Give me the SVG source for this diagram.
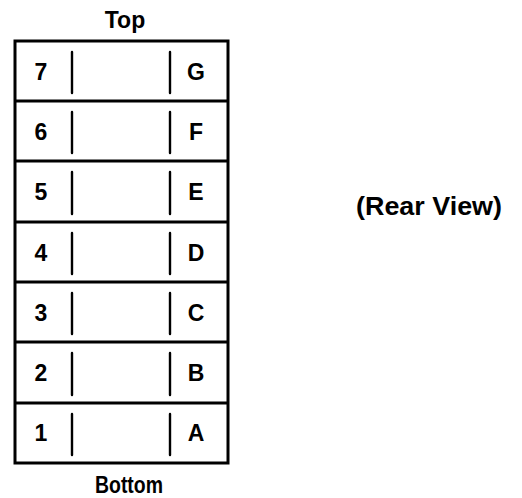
<svg xmlns="http://www.w3.org/2000/svg" width="522" height="498" viewBox="0 0 522 498">
<style>
.t{font-family:"Liberation Sans",Arial,sans-serif;font-weight:bold;font-size:23px;fill:#000}
.m{text-anchor:middle}
.box{fill:none;stroke:#000;stroke-width:3}
.sep{stroke:#000;stroke-width:3}
.div{stroke:#000;stroke-width:2.4;stroke-linecap:round}
</style>
<rect width="522" height="498" fill="#fff"/>
<text class="t m" x="125" y="28">Top</text>
<text class="t m" x="129" y="493" textLength="68" lengthAdjust="spacingAndGlyphs">Bottom</text>
<text class="t m" x="429" y="215" style="font-size:25px" textLength="146" lengthAdjust="spacingAndGlyphs">(Rear View)</text>
<rect class="box" x="15" y="41" width="213" height="422"/>
<g id="connectors">
<line class="sep" x1="15" y1="101" x2="228" y2="101"/>
<line class="sep" x1="15" y1="161" x2="228" y2="161"/>
<line class="sep" x1="15" y1="222" x2="228" y2="222"/>
<line class="sep" x1="15" y1="282" x2="228" y2="282"/>
<line class="sep" x1="15" y1="342" x2="228" y2="342"/>
<line class="sep" x1="15" y1="403" x2="228" y2="403"/>
</g>
<g id="row7"><text class="t m" x="41" y="80">7</text><line class="div" x1="72" y1="52" x2="72" y2="93"/><line class="div" x1="170" y1="52" x2="170" y2="93"/><text class="t m" x="196" y="80">G</text></g>
<g id="row6"><text class="t m" x="41" y="140">6</text><line class="div" x1="72" y1="112" x2="72" y2="153"/><line class="div" x1="170" y1="112" x2="170" y2="153"/><text class="t m" x="196" y="140">F</text></g>
<g id="row5"><text class="t m" x="41" y="200">5</text><line class="div" x1="72" y1="172" x2="72" y2="214"/><line class="div" x1="170" y1="172" x2="170" y2="214"/><text class="t m" x="196" y="200">E</text></g>
<g id="row4"><text class="t m" x="41" y="261">4</text><line class="div" x1="72" y1="233" x2="72" y2="274"/><line class="div" x1="170" y1="233" x2="170" y2="274"/><text class="t m" x="196" y="261">D</text></g>
<g id="row3"><text class="t m" x="41" y="321">3</text><line class="div" x1="72" y1="293" x2="72" y2="334"/><line class="div" x1="170" y1="293" x2="170" y2="334"/><text class="t m" x="196" y="321">C</text></g>
<g id="row2"><text class="t m" x="41" y="381">2</text><line class="div" x1="72" y1="353" x2="72" y2="395"/><line class="div" x1="170" y1="353" x2="170" y2="395"/><text class="t m" x="196" y="381">B</text></g>
<g id="row1"><text class="t m" x="41" y="441">1</text><line class="div" x1="72" y1="414" x2="72" y2="455"/><line class="div" x1="170" y1="414" x2="170" y2="455"/><text class="t m" x="196" y="441">A</text></g>
</svg>
